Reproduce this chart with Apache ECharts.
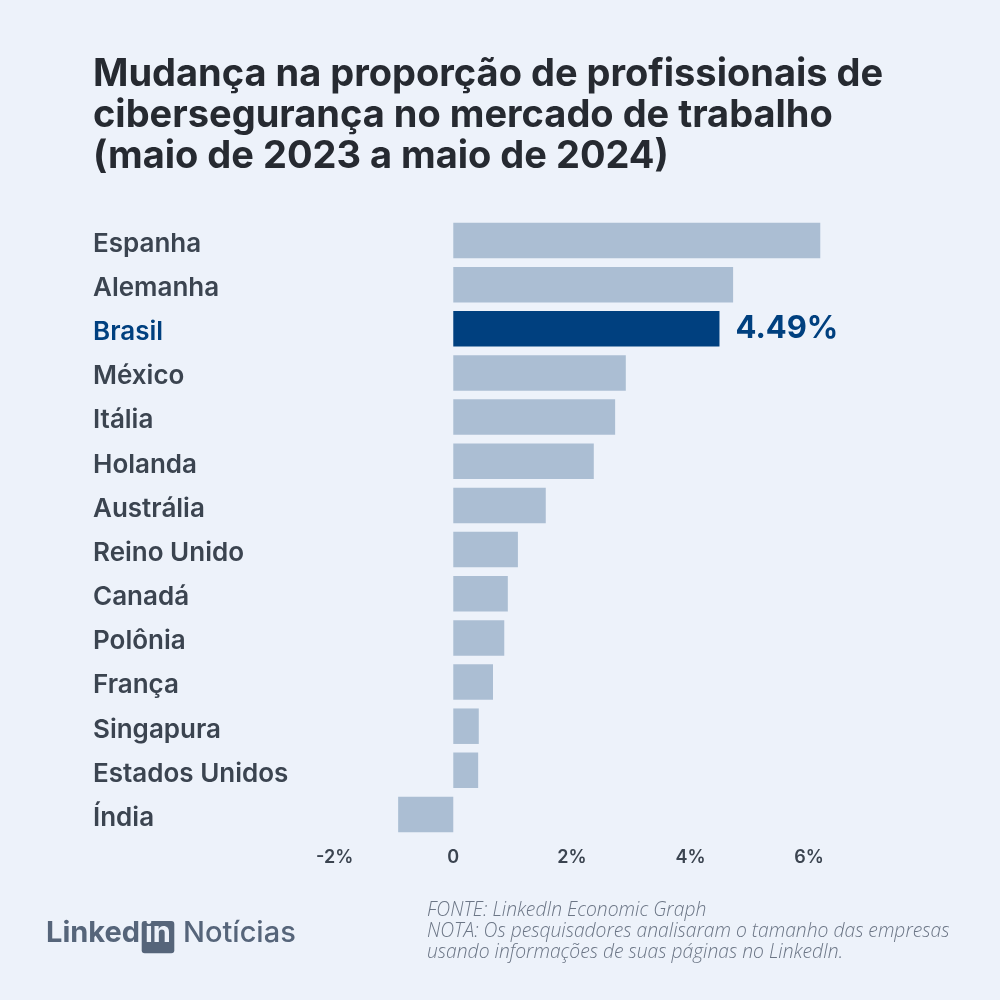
<!DOCTYPE html>
<html>
<head>
<meta charset="utf-8">
<script src="https://cdn.jsdelivr.net/npm/echarts@6/dist/echarts.min.js"></script>
<style>
html,body{margin:0;padding:0;background:#edf2fa;}
#c{width:1000px;height:1000px;}
</style>
</head>
<body>
<div id="c"></div>
<script>
const categories = ['Espanha','Alemanha','Brasil','México','Itália','Holanda','Austrália','Reino Unido','Canadá','Polônia','França','Singapura','Estados Unidos','Índia'];
const values = [6.19, 4.72, 4.49, 2.91, 2.73, 2.37, 1.56, 1.09, 0.92, 0.86, 0.67, 0.43, 0.42, -0.93];
const highlight = 'Brasil';
const highlightLabel = '4.49%';
const titleLines = ['Mudança na proporção de profissionais de','cibersegurança no mercado de trabalho','(maio de 2023 a maio de 2024)'];
const footLines = ['FONTE: LinkedIn Economic Graph','NOTA: Os pesquisadores analisaram o tamanho das empresas','usando informações de suas páginas no LinkedIn.'];

const LIGHT = '#abbed3', DARK = '#00407f', TXT = '#3b4450';
const chart = echarts.init(document.getElementById('c'), null, {renderer:'canvas'});

const seriesData = values.map((v,i)=>{
  const d = {value:v, itemStyle:{color: categories[i]===highlight ? DARK : LIGHT}};
  if (categories[i]===highlight) {
    d.label = {show:true, position:'right', distance:16, formatter:highlightLabel,
      color:DARK, fontSize:31, fontWeight:'bold', fontFamily:'Inter'};
  }
  return d;
});

chart.setOption({
  backgroundColor:'#edf2fa',
  animation:false,
  grid:{left:334.7, right:191, top:218.4, bottom:163.4, containLabel:false},
  xAxis:{type:'value', min:-2, max:6, interval:2,
    axisLine:{show:false}, axisTick:{show:false}, splitLine:{show:false},
    axisLabel:{margin:12, color:TXT, fontSize:18, fontWeight:600, fontFamily:'Inter',
      formatter:v=> v===0 ? '0' : v+'%'}},
  yAxis:{type:'category', data:categories, inverse:true,
    axisLine:{show:false}, axisTick:{show:false}, splitLine:{show:false},
    axisLabel:{align:'left', margin:241.7, fontSize:26, fontWeight:600, fontFamily:'Inter',
      verticalAlign:'top', lineHeight:7,
      color:(v)=> v===highlight ? DARK : TXT}},
  series:[{type:'bar', data:seriesData, barWidth:35.5, clip:false}],
  graphic:[
    ...titleLines.map((t,i)=>({type:'text', left:93, top:56+i*41,
      style:{text:t, fill:'#262a31', font:'bold 38px Inter'}})),
    {type:'text', left:46, top:919, style:{text:'Linked', fill:'#56657a', font:'bold 29px Inter'}},
    {type:'rect', shape:{x:141.7, y:921, width:32.6, height:32.3, r:3}, style:{fill:'#56657a'}},
    {type:'text', left:145, top:919, style:{text:'in', fill:'#edf2fa', font:'bold 29px Inter'}},
    {type:'text', left:183, top:919, style:{text:'Notícias', fill:'#56657a', font:'500 29px Inter'}},
    ...footLines.map((t,i)=>({type:'text', left:427, top:901+i*21,
      style:{text:t, fill:'#6c7686', font:'italic 300 19.3px "Open Sans"'}}))
  ]
});
</script>
</body>
</html>
